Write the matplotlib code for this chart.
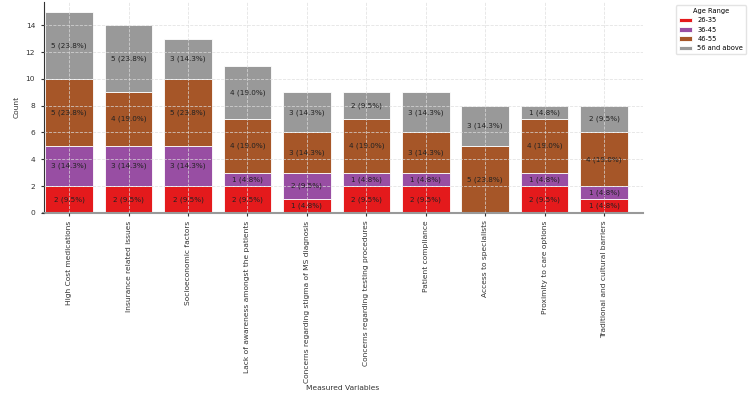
import matplotlib.pyplot as plt
import numpy as np

categories = [
    "High Cost medications",
    "Insurance related issues",
    "Socioeconomic factors",
    "Lack of awareness amongst the patients",
    "Concerns regarding stigma of MS diagnosis",
    "Concerns regarding testing procedures",
    "Patient compliance",
    "Access to specialists",
    "Proximity to care options",
    "Traditional and cultural barriers",
]
age_groups = ["26-35", "36-45", "46-55", "56 and above"]
age_26_35 = [2, 2, 2, 2, 1, 2, 2, 0, 2, 1]
age_36_45 = [3, 3, 3, 1, 2, 1, 1, 0, 1, 1]
age_46_55 = [5, 4, 5, 4, 3, 4, 3, 5, 4, 4]
age_56_up = [5, 5, 3, 4, 3, 2, 3, 3, 1, 2]
n_respondents = 21

colors = ["#e41a1c", "#984ea3", "#a65628", "#999999"]

fig, ax = plt.subplots(figsize=(7.5, 4.03), dpi=100)
fig.subplots_adjust(left=0.058, right=0.857, top=0.995, bottom=0.472)

x = np.arange(len(categories))
bottom = np.zeros(len(categories))
for name, vals, c in zip(age_groups, [age_26_35, age_36_45, age_46_55, age_56_up], colors):
    vals = np.array(vals)
    ax.bar(x, vals, 0.8, bottom=bottom, color=c, edgecolor="white", linewidth=0.6, label=name)
    for xi, b, v in zip(x, bottom, vals):
        if v > 0:
            ax.text(xi, b + v / 2, f"{v} ({v / n_respondents * 100:.1f}%)",
                    ha="center", va="center", fontsize=5.2, color="#222222")
    bottom += vals

ax.set_xticks(x)
ax.set_xticklabels(categories, rotation=90, fontsize=5.4, color="#333333")
ax.tick_params(axis="y", labelsize=5.4, colors="#333333", length=2.5)
ax.tick_params(axis="x", length=2, colors="#333333")
ax.set_ylabel("Count", fontsize=5.4, color="#333333", labelpad=4)
ax.set_xlabel("Measured Variables", fontsize=5.4, color="#333333", labelpad=2)
ax.set_yticks([0, 2, 4, 6, 8, 10, 12, 14])
ax.set_xlim(-0.43, 9.65)

ax.grid(True, linestyle="--", linewidth=0.6, color="#dddddd", alpha=0.8)
ax.set_axisbelow(False)
for s in ["top", "right"]:
    ax.spines[s].set_visible(False)
ax.spines["left"].set_color("#333333")
ax.spines["left"].set_linewidth(0.8)
ax.spines["bottom"].set_color("#999999")
ax.spines["bottom"].set_linewidth(1.5)

leg = ax.legend(title="Age Range", bbox_to_anchor=(1.05, 1), loc="upper left",
                fontsize=4.8, title_fontsize=4.8, frameon=True, handlelength=2.0)
leg.get_frame().set_edgecolor("#dddddd")

fig.savefig("out.png")
